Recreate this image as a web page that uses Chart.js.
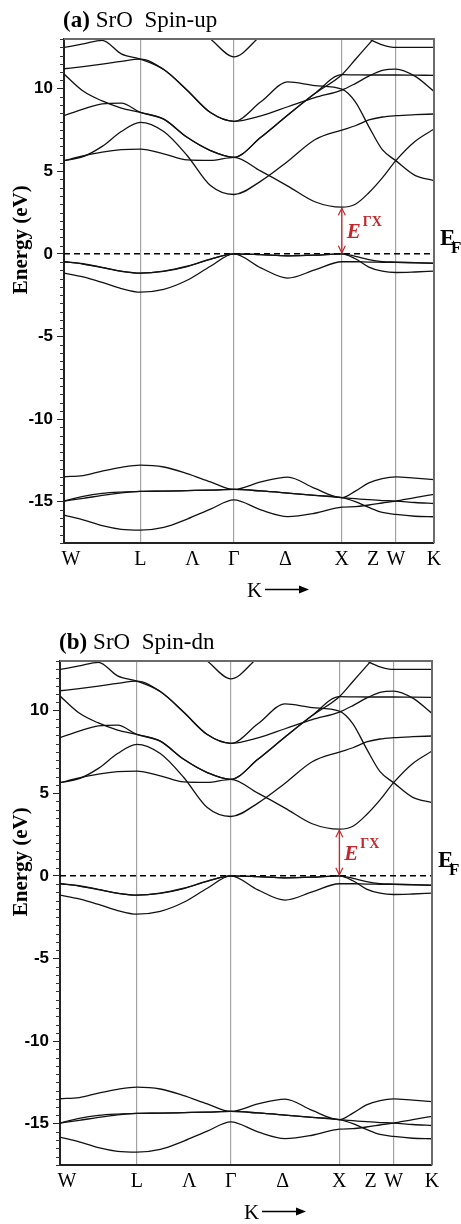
<!DOCTYPE html>
<html><head><meta charset="utf-8">
<script src="https://cdn.jsdelivr.net/npm/chart.js@4.4.1/dist/chart.umd.min.js"></script>
<style>
html,body{margin:0;padding:0;background:#fff;}
#wrap{position:relative;width:461px;height:1224px;overflow:hidden;background:#fff;}
canvas{position:absolute;left:0;}
</style></head><body>
<div id="wrap">
<canvas id="cA" width="461" height="612" style="top:0"></canvas>
<canvas id="cB" width="461" height="612" style="top:612px"></canvas>
</div>
<script>
// k-path distances (2π/a units): W, L, Γ, X, W, K with samples between
const kGrid = [0, 0.1768, 0.3536, 0.5303, 0.7071, 0.9236, 1.1401, 1.3566, 1.5731,
               1.8231, 2.0731, 2.3231, 2.5731, 2.6981, 2.8231, 2.9481, 3.0731, 3.2499, 3.4267];
const kTickPos = [0.065, 0.7071, 1.19, 1.5731, 2.051, 2.5731, 2.862, 3.0731, 3.4267];
const kTickLabels = ['W', 'L', 'Λ', 'Γ', 'Δ', 'X', 'Z', 'W', 'K'];
const kSymLine = [false, true, false, true, false, true, false, true, false];
const energyTicks = [-15, -10, -5, 0, 5, 10];
const eMin = -17.5, eMax = 13;
const fermiLevel = 0;
const gapK = 2.5731;     // X point
const gapTop = 2.82;     // conduction band minimum at X

// valence bands (O 2p)
const p1 = [-0.48, -0.6, -0.82, -1.05, -1.17, -1.05, -0.75, -0.32, 0, -0.05, -0.12, -0.08, 0, -0.3, -0.8, -1.05, -1.13, -1.1, -1.05];
const p2 = [-0.48, -0.62, -0.84, -1.06, -1.17, -1.06, -0.77, -0.33, 0, -0.05, -0.12, -0.08, 0, -0.15, -0.35, -0.47, -0.5, -0.53, -0.56];
const p3 = [-1.17, -1.4, -1.73, -2.1, -2.32, -2.15, -1.6, -0.75, 0, -0.85, -1.47, -0.97, -0.48, -0.48, -0.5, -0.51, -0.52, -0.55, -0.58];
// conduction bands
const c0 = [5.64, 5.88, 6.5, 7.4, 7.96, 7.4, 5.95, 4.13, 3.59, 4.4, 5.6, 6.9, 7.49, 7.75, 8.1, 8.28, 8.36, 8.42, 8.46];
const c1 = [5.64, 5.92, 6.15, 6.3, 6.34, 6.05, 5.68, 5.65, 5.84, 5.0, 4.1, 3.15, 2.82, 3.0, 3.7, 4.6, 5.64, 6.8, 7.55];
const c2 = [8.36, 8.75, 9.08, 9.12, 8.56, 8.15, 7.05, 6.25, 5.84, 7.05, 8.4, 9.7, 10.84, 11.76, 12.69, 13.6, null, null, null];
const c3 = [10.88, 9.85, 9.25, 8.82, 8.56, 8.15, 7.05, 6.25, 5.84, 7.05, 8.4, 9.7, 10.84, 10.83, 10.82, 10.82, 10.82, 10.81, 10.8];
const c4 = [11.2, 11.33, 11.48, 11.65, 11.78, 11.15, 9.9, 8.55, 8.02, 9.2, 10.4, 10.18, 9.97, 9.2, 7.7, 6.3, 5.64, 4.75, 4.43];
const c5 = [12.49, 12.7, 12.92, 12.1, 11.78, 11.15, 9.9, 8.55, 8.02, 8.35, 8.9, 9.45, 9.91, 10.3, 10.75, 11.1, 11.18, 10.75, 9.83];
const c6 = [null, null, null, null, null, null, null, 13.0, 11.92, 13.2, null, null, null, null, null, null, null, null, null];
const c7 = [null, null, null, null, null, null, null, null, null, null, null, null, null, null, 13.0, 12.65, 12.49, 12.49, 12.49];
// semicore bands
const s1 = [-13.49, -13.42, -13.15, -12.92, -12.79, -12.9, -13.3, -13.8, -14.26, -13.8, -13.51, -14.2, -14.76, -14.36, -13.86, -13.6, -13.5, -13.58, -13.66];
const s2 = [-14.96, -14.68, -14.5, -14.42, -14.38, -14.36, -14.33, -14.3, -14.26, -14.35, -14.48, -14.62, -14.76, -14.82, -14.88, -14.93, -14.96, -15.05, -15.11];
const s3 = [-14.96, -14.8, -14.62, -14.47, -14.38, -14.36, -14.33, -14.3, -14.26, -14.35, -14.48, -14.62, -14.76, -15.0, -15.35, -15.65, -15.77, -15.88, -15.91];
const s4 = [-15.81, -16.1, -16.45, -16.67, -16.72, -16.55, -16.05, -15.45, -14.89, -15.5, -15.9, -15.7, -15.33, -15.3, -15.2, -15.08, -14.96, -14.75, -14.56];

const spinUpBands = [p1, p2, p3, c0, c1, c2, c3, c4, c5, c6, c7, s1, s2, s3, s4];
const spinDnBands = [p1, p2, p3, c0, c1, c2, c3, c4, c5, c6, c7, s1, s2, s3, s4];

const RED = '#c1272d';

function makeChart(canvasId, bands, tag, title, layout) {
  const datasets = bands.map(b => ({
    data: kGrid.map((k, i) => ({ x: k, y: b[i] })),
    borderColor: '#111', borderWidth: 1.3, pointRadius: 0,
    cubicInterpolationMode: 'monotone', fill: false
  }));
  datasets.push({
    data: [{ x: kGrid[0], y: fermiLevel }, { x: kGrid[kGrid.length - 1], y: fermiLevel }],
    borderColor: '#000', borderWidth: 1.6, borderDash: [6, 4], pointRadius: 0, tension: 0
  });

  const deco = {
    id: 'deco',
    afterDraw(chart) {
      const ctx = chart.ctx, ca = chart.chartArea, xs = chart.scales.x, ys = chart.scales.y;
      ctx.save();
      // minor ticks
      ctx.strokeStyle = '#333'; ctx.lineWidth = 1;
      for (let i = Math.ceil(eMin * 2); i <= Math.floor(eMax * 2); i++) {
        const v = i / 2;
        if (v % 5 === 0) continue;
        const y = Math.round(ys.getPixelForValue(v)) + 0.5;
        ctx.beginPath(); ctx.moveTo(ca.left - 4, y); ctx.lineTo(ca.left, y); ctx.stroke();
      }
      // frame top / right
      ctx.strokeStyle = '#6b6b6b'; ctx.lineWidth = 2;
      ctx.beginPath(); ctx.moveTo(ca.left, ca.top); ctx.lineTo(ca.right, ca.top); ctx.lineTo(ca.right, ca.bottom); ctx.stroke();
      // panel title
      ctx.fillStyle = '#000'; ctx.textAlign = 'left'; ctx.textBaseline = 'alphabetic';
      ctx.font = 'bold 23px "Liberation Serif"';
      ctx.fillText(tag, ca.left - 1, ca.top - 12);
      const w = ctx.measureText(tag).width;
      ctx.font = '23px "Liberation Serif"';
      ctx.fillText(title, ca.left - 1 + w + 6, ca.top - 12);
      // y title
      ctx.save();
      ctx.translate(22, ys.getPixelForValue(0.85));
      ctx.rotate(-Math.PI / 2);
      ctx.textAlign = 'center'; ctx.textBaseline = 'middle';
      ctx.font = 'bold 21px "Liberation Serif"';
      ctx.fillText('Energy (eV)', 0, 0);
      ctx.restore();
      // E_F
      const y0 = ys.getPixelForValue(fermiLevel);
      ctx.font = 'bold 23px "Liberation Serif"';
      ctx.fillText('E', ca.right + 6, y0 - 9);
      ctx.font = 'bold 17px "Liberation Serif"';
      ctx.fillText('F', ca.right + 17, y0 - 0.5);
      // gap arrow
      const xg = xs.getPixelForValue(gapK), yt = ys.getPixelForValue(gapTop), yb = y0;
      ctx.strokeStyle = RED; ctx.lineWidth = 1.2;
      ctx.beginPath(); ctx.moveTo(xg, yt + 1); ctx.lineTo(xg, yb - 1); ctx.stroke();
      ctx.beginPath(); ctx.moveTo(xg - 3.5, yt + 8); ctx.lineTo(xg, yt + 1); ctx.lineTo(xg + 3.5, yt + 8); ctx.stroke();
      ctx.beginPath(); ctx.moveTo(xg - 3.5, yb - 8); ctx.lineTo(xg, yb - 1); ctx.lineTo(xg + 3.5, yb - 8); ctx.stroke();
      ctx.fillStyle = RED;
      const eb = yt + (yb - yt) * 0.65;
      ctx.font = 'italic bold 21px "Liberation Serif"';
      ctx.fillText('E', xg + 5, eb);
      const we = ctx.measureText('E').width;
      ctx.font = 'bold 14px "Liberation Serif"';
      ctx.fillText('ΓX', xg + 5 + we + 2, eb - 12);
      // K arrow axis title
      ctx.fillStyle = '#000'; ctx.strokeStyle = '#000';
      const cx = (ca.left + ca.right) / 2;
      ctx.font = '21px "Liberation Serif"';
      ctx.fillText('K', cx - 2, ca.bottom + 54);
      const ya = ca.bottom + 46.5;
      ctx.lineWidth = 1.3;
      ctx.beginPath(); ctx.moveTo(cx + 16, ya); ctx.lineTo(cx + 51, ya); ctx.stroke();
      ctx.beginPath(); ctx.moveTo(cx + 60, ya); ctx.lineTo(cx + 50, ya - 4); ctx.lineTo(cx + 50, ya + 4); ctx.closePath(); ctx.fill();
      ctx.restore();
    }
  };

  return new Chart(document.getElementById(canvasId), {
    type: 'line',
    data: { datasets },
    options: {
      responsive: false, animation: false, devicePixelRatio: 1, events: [],
      layout: { padding: { left: 0, right: layout.right, top: layout.top, bottom: 0 } },
      plugins: { legend: { display: false }, tooltip: { enabled: false } },
      scales: {
        x: {
          type: 'linear', min: kGrid[0], max: kGrid[kGrid.length - 1],
          afterBuildTicks: s => { s.ticks = kTickPos.map(v => ({ value: v })); },
          afterFit: s => { s.height = layout.xh; },
          ticks: {
            autoSkip: false, maxRotation: 0, minRotation: 0, padding: 5,
            color: '#000', font: { family: '"Liberation Serif"', size: 20 },
            callback: (v, i) => kTickLabels[i]
          },
          grid: {
            drawOnChartArea: true, drawTicks: false, lineWidth: 1.2,
            color: c => kSymLine[c.index] ? '#a3a3a3' : 'rgba(0,0,0,0)'
          },
          border: { display: true, color: '#222', width: 2 }
        },
        y: {
          type: 'linear', min: eMin, max: eMax,
          afterBuildTicks: s => { s.ticks = energyTicks.map(v => ({ value: v })); },
          afterFit: s => { s.width = layout.yw; },
          ticks: {
            padding: 4, color: '#000',
            font: { family: '"Liberation Sans"', size: 17, weight: 'bold' },
            callback: v => String(v)
          },
          grid: { drawOnChartArea: false, drawTicks: true, tickLength: 7, color: '#222', lineWidth: 1 },
          border: { display: true, color: '#222', width: 2 }
        }
      }
    },
    plugins: [deco]
  });
}

makeChart('cA', spinUpBands, '(a)', 'SrO  Spin-up', { right: 27, top: 39, xh: 69, yw: 64 });
makeChart('cB', spinDnBands, '(b)', 'SrO  Spin-dn', { right: 29, top: 49, xh: 59, yw: 60 });
</script>
</body></html>
